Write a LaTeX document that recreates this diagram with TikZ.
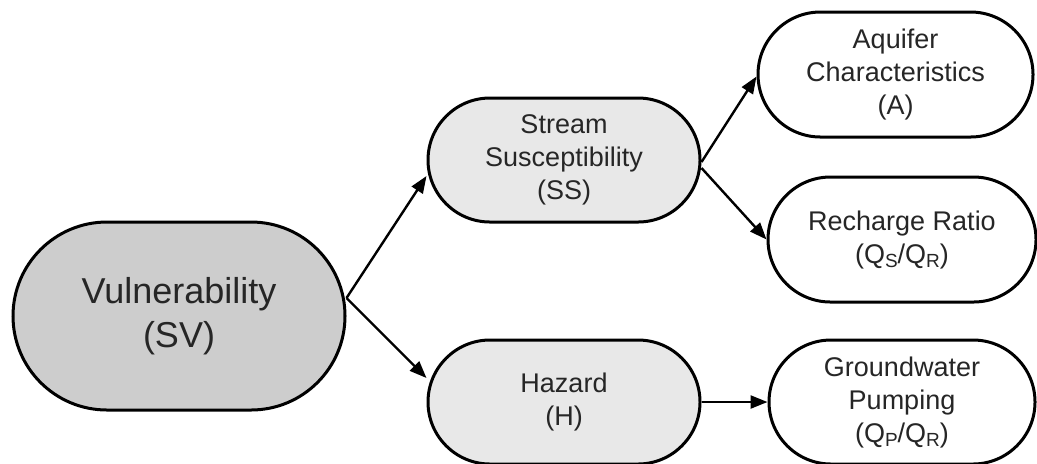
\documentclass[tikz,border=0pt]{standalone}
\usepackage{fontspec}
\setmainfont{Liberation Sans}
\usetikzlibrary{shapes.misc,arrows.meta}
\newcommand{\sbs}[1]{\raisebox{-2.2pt}{\fontsize{9.5}{9.5}\selectfont #1}}
\definecolor{darkfill}{RGB}{205,205,205}
\definecolor{lightfill}{RGB}{232,232,232}
\begin{document}
\begin{tikzpicture}[x=0.5pt,y=-0.5pt,
  pill/.style={rounded rectangle, draw=black, line width=1.5pt, align=center, inner sep=0pt, text=black!85},
  smalltext/.style={font=\fontsize{13.5}{16.5}\selectfont},
  bigtext/.style={font=\fontsize{18}{22}\selectfont},
  arr/.style={line width=1.2pt, -{Triangle[length=8.5pt,width=6.5pt]}}]
\useasboundingbox (0,0) rectangle (1037,463);
\clip (0,0) rectangle (1037,463);
\node[pill, bigtext, fill=darkfill, minimum width=166pt, minimum height=94pt] (SV) at (179,316) {Vulnerability\\(SV)};
\node[pill, smalltext, fill=lightfill, minimum width=136pt, minimum height=62pt] (SS) at (564,160) {Stream\\Susceptibility\\(SS)};
\node[pill, smalltext, fill=lightfill, minimum width=136pt, minimum height=62pt] (H) at (564,402) {Hazard\\(H)};
\node[pill, smalltext, fill=white, minimum width=137.5pt, minimum height=62.5pt] (A) at (895.5,74.5) {Aquifer\\Characteristics\\(A)};
\node[pill, smalltext, fill=white, minimum width=134pt, minimum height=62.5pt] (R) at (902,239.5) {Recharge Ratio\\(Q\sbs{S}/Q\sbs{R})};
\node[pill, smalltext, fill=white, minimum width=133pt, minimum height=62pt] (G) at (902,402) {Groundwater\\Pumping\\(Q\sbs{P}/Q\sbs{R})};
\draw[arr] ([yshift=9pt]SV.east) -- ([yshift=-8pt]SS.west);
\draw[arr] ([yshift=9pt]SV.east) -- ([yshift=12pt]H.west);
\draw[arr] ([yshift=-1pt]SS.east) -- ([yshift=-1pt]A.west);
\draw[arr] ([yshift=-4pt]SS.east) -- (R.west);
\draw[arr] (H.east) -- (G.west);
\end{tikzpicture}
\end{document}
